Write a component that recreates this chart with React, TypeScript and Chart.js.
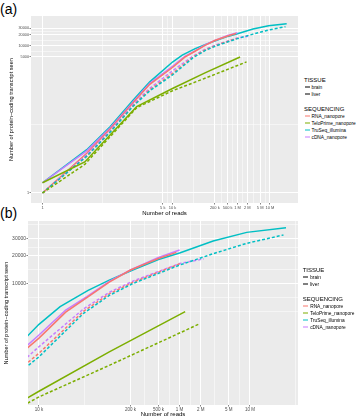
import React, { useEffect, useRef } from "react";
import { Chart, registerables } from "chart.js";
Chart.register(...registerables);

const FONT = "'Liberation Sans', Arial, sans-serif";

// ---------- data (reads -> protein-coding transcripts seen) ----------
const truSeqBrainReads = [1, 23, 120, 620, 2000, 10000, 20000, 50000, 100000, 220000, 500000, 1000000, 3000000, 9000000, 32600000];
const truSeqBrainSeen = [1.9, 15, 63, 335, 1050, 3620, 5600, 8400, 10800, 14000, 18000, 21200, 28500, 35300, 39600];

const truSeqLiverReads = [1, 23, 120, 620, 2000, 10000, 43000, 100000, 220000, 1000000, 3000000, 9000000, 30000000];
const truSeqLiverSeen = [1, 10, 45, 230, 600, 1620, 4750, 7400, 10000, 15700, 20800, 26900, 33100];

const teloBrainReads = [1, 20, 790, 10000, 100000, 1200000];
const teloBrainSeen = [1.9, 7, 222, 690, 1830, 4950];

const teloLiverReads = [1, 20, 800, 10000, 100000, 1900000];
const teloLiverSeen = [1, 6, 210, 600, 1310, 3650];

const rnaBrainReads = [1, 23, 120, 620, 2000, 10000, 24000, 48000, 100000, 200000, 500000, 900000];
const rnaBrainSeen = [1, 12, 55, 290, 900, 2570, 4900, 7000, 10300, 13900, 18500, 21500];

const rnaLiverReads = [1, 23, 120, 620, 2000, 10000, 43000, 100000, 220000, 1000000];
const rnaLiverSeen = [1, 10, 46, 240, 640, 1770, 5000, 7700, 10300, 16200];

const cdnaBrainReads = [1, 23, 120, 620, 2000, 10000, 24000, 48000, 100000, 200000, 500000, 1000000];
const cdnaBrainSeen = [1.9, 14, 58, 300, 950, 2780, 5160, 7200, 10500, 13900, 19000, 22800];

const cdnaLiverReads = [1, 23, 120, 620, 2000, 10000, 43000, 100000, 220000, 1000000, 2200000];
const cdnaLiverSeen = [1, 11, 50, 260, 700, 2080, 5300, 8000, 10600, 16300, 18300];

// ---------- tick labels ----------
const xTicksA = [1, 5000, 10000, 200000, 500000, 1000000, 2000000, 5000000, 10000000];
const xTicksB = [10000, 200000, 500000, 1000000, 2000000, 5000000, 10000000];
const yTicksA = [1, 5000, 10000, 20000, 30000];
const yTicksB = [10000, 20000, 30000];
const xTickLabel: Record<number, string> = {
  1: "1", 5000: "5 k", 10000: "10 k", 200000: "200 k", 500000: "500 k",
  1000000: "1 M", 2000000: "2 M", 5000000: "5 M", 10000000: "10 M",
};

const COL = { rna: "#F8766D", telo: "#7CAE00", truseq: "#00BFC4", cdna: "#C77CFF" };
const seqLegend = [
  { label: "RNA_nanopore", color: COL.rna },
  { label: "TeloPrime_nanopore", color: COL.telo },
  { label: "TruSeq_illumina", color: COL.truseq },
  { label: "cDNA_nanopore", color: COL.cdna },
];

function pts(r: number[], s: number[]) {
  return r.map((x, i) => ({ x, y: s[i] }));
}

function minorBreaks(major: number[], min: number, max: number): number[] {
  const b = major.map(Math.log10);
  const bd = b[1] - b[0];
  const lo = Math.log10(min), hi = Math.log10(max);
  const ext = [...b];
  if (lo < b[0]) ext.unshift(b[0] - bd);
  if (hi > b[b.length - 1]) ext.push(b[b.length - 1] + bd);
  const out: number[] = [];
  for (let i = 0; i < ext.length; i++) {
    out.push(ext[i]);
    if (i < ext.length - 1) out.push((ext[i] + ext[i + 1]) / 2);
  }
  return out
    .filter((v) => v > lo && v < hi && !b.some((m) => Math.abs(m - v) < 1e-9))
    .map((v) => Math.pow(10, v));
}

const DASH = [3, 2];
function datasets() {
  const mk = (r: number[], s: number[], c: string, dashed: boolean) => ({
    data: pts(r, s),
    borderColor: c,
    backgroundColor: c,
    borderWidth: 1.5,
    borderDash: dashed ? DASH : [],
    pointRadius: 0,
    fill: false,
    tension: 0,
  });
  return [
    mk(teloLiverReads, teloLiverSeen, COL.telo, true),
    mk(teloBrainReads, teloBrainSeen, COL.telo, false),
    mk(truSeqLiverReads, truSeqLiverSeen, COL.truseq, true),
    mk(rnaLiverReads, rnaLiverSeen, COL.rna, true),
    mk(cdnaLiverReads, cdnaLiverSeen, COL.cdna, true),
    mk(rnaBrainReads, rnaBrainSeen, COL.rna, false),
    mk(cdnaBrainReads, cdnaBrainSeen, COL.cdna, false),
    mk(truSeqBrainReads, truSeqBrainSeen, COL.truseq, false),
  ];
}

type PanelCfg = {
  top: number; w: number; h: number;
  area: { l: number; t: number; r: number; b: number };
  xMin: number; xMax: number; yMin: number; yMax: number;
  xTicks: number[]; yTicks: number[];
  xTickSize: number; yTickSize: number; yTitleX: number; xAxisH: number;
};

const bgPlugin = {
  id: "panelBg",
  beforeDraw(chart: any) {
    const { ctx, chartArea: a } = chart;
    ctx.save();
    ctx.fillStyle = "#EBEBEB";
    ctx.fillRect(a.left, a.top, a.right - a.left, a.bottom - a.top);
    ctx.restore();
  },
};

function Panel({ cfg }: { cfg: PanelCfg }) {
  const ref = useRef<HTMLCanvasElement>(null);
  useEffect(() => {
    const { area } = cfg;
    const xMinor = minorBreaks(cfg.xTicks, cfg.xMin, cfg.xMax);
    const yMinor = minorBreaks(cfg.yTicks, cfg.yMin, cfg.yMax);
    const mkTicks = (major: number[], minor: number[]) => [
      ...minor.map((v) => ({ value: v, minor: true })),
      ...major.map((v) => ({ value: v, minor: false })),
    ];
    const gridW = (c: any) => (c.tick && c.tick.minor ? 0.5 : 1);
    const tickCol = (c: any) => (c.tick && c.tick.minor ? "rgba(0,0,0,0)" : "#333333");
    const chart = new Chart(ref.current!, {
      type: "line",
      data: { datasets: datasets() as any },
      plugins: [bgPlugin],
      options: {
        animation: false,
        responsive: false,
        devicePixelRatio: 1,
        events: [],
        layout: {
          padding: {
            left: 0,
            top: area.t - cfg.top,
            right: cfg.w - area.r,
            bottom: cfg.h - (area.b - cfg.top) - cfg.xAxisH,
          },
        },
        plugins: { legend: { display: false }, tooltip: { enabled: false } },
        scales: {
          x: {
            type: "logarithmic",
            min: cfg.xMin,
            max: cfg.xMax,
            afterBuildTicks: (s: any) => { s.ticks = mkTicks(cfg.xTicks, xMinor); },
            afterFit: (s: any) => { s.height = cfg.xAxisH; },
            border: { display: false },
            grid: { color: "#FFFFFF", lineWidth: gridW, tickColor: tickCol, tickLength: 1.5, tickWidth: 0.6 },
            ticks: {
              autoSkip: false, maxRotation: 0, minRotation: 0, padding: 0.5,
              font: { family: FONT, size: cfg.xTickSize }, color: "#4D4D4D",
              callback: (v: any, i: number, t: any[]) => (t[i] && t[i].minor ? "" : xTickLabel[v as number] ?? ""),
            },
            title: { display: true, text: "Number of reads", font: { family: FONT, size: 6 }, color: "#000000", padding: { top: 0, bottom: 0.4 } },
          },
          y: {
            type: "logarithmic",
            min: cfg.yMin,
            max: cfg.yMax,
            afterBuildTicks: (s: any) => { s.ticks = mkTicks(cfg.yTicks, yMinor); },
            afterFit: (s: any) => { s.width = area.l; },
            border: { display: false },
            grid: { color: "#FFFFFF", lineWidth: gridW, tickColor: tickCol, tickLength: 1.5, tickWidth: 0.6 },
            ticks: {
              autoSkip: false, padding: 0.5,
              font: { family: FONT, size: cfg.yTickSize }, color: "#4D4D4D",
              callback: (v: any, i: number, t: any[]) => (t[i] && t[i].minor ? "" : String(v)),
            },
            title: {
              display: true, text: "Number of protein\u2212coding transcript seen",
              font: { family: FONT, size: 5.6 }, color: "#000000",
              padding: { top: cfg.yTitleX - 3.4, bottom: 0 },
            },
          },
        },
      },
    });
    return () => chart.destroy();
  }, []);
  return (
    <canvas
      ref={ref}
      width={cfg.w}
      height={cfg.h}
      style={{ position: "absolute", left: 0, top: cfg.top, width: cfg.w, height: cfg.h }}
    />
  );
}

function Legend({ x, y }: { x: number; y: number }) {
  const title: React.CSSProperties = { position: "absolute", left: x, fontSize: 6, lineHeight: "6px", color: "#000", whiteSpace: "nowrap", transform: "translateY(-50%)" };
  const item = (yy: number, label: string, color: string, dashed: boolean) => (
    <div key={label} style={{ position: "absolute", left: x + 0.5, top: yy, transform: "translateY(-50%)", display: "flex", alignItems: "center", whiteSpace: "nowrap" }}>
      <div style={{ width: 5, height: 0, borderTop: `1.4px ${dashed ? "dashed" : "solid"} ${color}`, marginRight: 2 }} />
      <span style={{ fontSize: 4.8, lineHeight: "5px", color: "#000" }}>{label}</span>
    </div>
  );
  return (
    <>
      <div style={{ ...title, top: y }}>TISSUE</div>
      {item(y + 7.3, "brain", "#000", false)}
      {item(y + 14.3, "liver", "#000", true)}
      <div style={{ ...title, top: y + 28.7 }}>SEQUENCING</div>
      {seqLegend.map((s, i) => item(y + 36.3 + i * 7, s.label, s.color, false))}
    </>
  );
}

const panelA: PanelCfg = {
  top: 0, w: 300, h: 220,
  area: { l: 31, t: 16, r: 298, b: 203 },
  xMin: Math.pow(10, -0.354), xMax: Math.pow(10, 7.862),
  yMin: Math.pow(10, -0.272), yMax: Math.pow(10, 4.81),
  xTicks: xTicksA, yTicks: yTicksA,
  xTickSize: 4, yTickSize: 3.8, yTitleX: 11.7, xAxisH: 14,
};
const panelB: PanelCfg = {
  top: 208, w: 300, h: 210,
  area: { l: 28, t: 221, r: 298, b: 405 },
  xMin: Math.pow(10, 3.844), xMax: Math.pow(10, 7.684),
  yMin: Math.pow(10, 2.691), yMax: Math.pow(10, 4.67),
  xTicks: xTicksB, yTicks: yTicksB,
  xTickSize: 4.5, yTickSize: 5, yTitleX: 6, xAxisH: 13,
};

export default function App() {
  return (
    <div style={{ position: "fixed", left: 0, top: 0, width: 361, height: 418, background: "#fff", fontFamily: FONT, overflow: "hidden" }}>
      <div style={{ position: "absolute", left: 0, top: 9, transform: "translateY(-50%)", fontSize: 14, lineHeight: "14px" }}>(a)</div>
      <div style={{ position: "absolute", left: 0, top: 213, transform: "translateY(-50%)", fontSize: 14, lineHeight: "14px" }}>(b)</div>
      <Panel cfg={panelA} />
      <Panel cfg={panelB} />
      <Legend x={304} y={80} />
      <Legend x={302.7} y={270} />
    </div>
  );
}
